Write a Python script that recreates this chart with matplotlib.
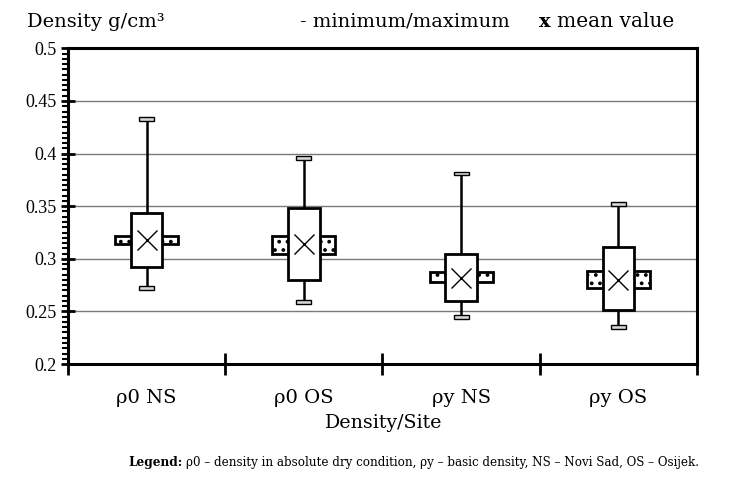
import numpy as np
import matplotlib
matplotlib.use("Agg")
import matplotlib.pyplot as plt
from matplotlib.patches import Rectangle

plt.rcParams['font.family'] = ['Liberation Serif', 'DejaVu Serif']
plt.rcParams['hatch.linewidth'] = 1.5

# data
categories = ['ρ0 NS', 'ρ0 OS', 'ρy NS', 'ρy OS']
minimum = [0.272, 0.259, 0.245, 0.235]
maximum = [0.433, 0.396, 0.381, 0.352]
box_low = [0.292, 0.280, 0.260, 0.251]
box_high = [0.344, 0.348, 0.305, 0.311]
side_low = [0.314, 0.305, 0.278, 0.272]
side_high = [0.322, 0.322, 0.287, 0.288]
mean = [0.318, 0.314, 0.282, 0.280]

text_font = ['DejaVu Serif']

fig = plt.figure(figsize=(7.31, 4.79), dpi=100)
ax = fig.add_axes([0.093, 0.240, 0.8605, 0.659])

box_w = 0.2
side_w = 0.4
cap_w = 0.095
cap_h = 0.0035

for i in range(len(categories)):
    x = i + 0.5
    # whisker
    ax.plot([x, x], [minimum[i], maximum[i]], color='black', lw=1.8, zorder=3)
    # caps
    for v in (minimum[i], maximum[i]):
        ax.add_patch(Rectangle((x - cap_w / 2, v - cap_h / 2), cap_w, cap_h,
                               facecolor='#d8d8d8', edgecolor='black', lw=1.0, zorder=4))
    # dotted side box
    ax.add_patch(Rectangle((x - side_w / 2, side_low[i]), side_w, side_high[i] - side_low[i],
                           facecolor='white', edgecolor='black', lw=2.0,
                           hatch='..', zorder=4))
    # main box
    ax.add_patch(Rectangle((x - box_w / 2, box_low[i]), box_w, box_high[i] - box_low[i],
                           facecolor='white', edgecolor='black', lw=2.0, zorder=5))
    # mean
    ax.plot(x, mean[i], marker='x', ms=15, mew=1.0, color='black', zorder=6)

ax.set_xlim(0, 4)
ax.set_ylim(0.2, 0.5)
ax.set_yticks(np.arange(0.2, 0.501, 0.05))
ax.set_yticklabels(['0.2', '0.25', '0.3', '0.35', '0.4', '0.45', '0.5'])
ax.set_yticks(np.arange(0.2, 0.501, 0.005), minor=True)
ax.set_xticks([0, 1, 2, 3, 4])
ax.set_xticklabels([])
ax.set_xticks([0.5, 1.5, 2.5, 3.5], minor=True)
ax.set_xticklabels(categories, minor=True, family=text_font, fontsize=14)

ax.yaxis.grid(True, which='major', color='#7a7a7a', lw=1.0)
ax.set_axisbelow(True)

ax.tick_params(axis='y', which='major', direction='inout', length=10, width=2.0,
               labelsize=13, pad=3)
ax.tick_params(axis='y', which='minor', direction='out', length=4, width=1.5)
ax.tick_params(axis='x', which='major', direction='inout', length=16, width=2.0)
ax.tick_params(axis='x', which='minor', length=0, pad=18)

for s in ax.spines.values():
    s.set_linewidth(2.2)

ax.set_xlabel('Density/Site', fontsize=13.7, family=text_font, labelpad=5)

fig.text(0.037, 0.955, 'Density g/cm³', fontsize=14, family=text_font, ha='left', va='center')
fig.text(0.41, 0.955, '- minimum/maximum', fontsize=14, family=text_font, ha='left', va='center')
fig.text(0.738, 0.955, 'x', fontsize=14, fontweight='bold', family=text_font,
         ha='left', va='center')
fig.text(0.762, 0.955, 'mean value', fontsize=14.5, family=text_font, ha='left', va='center')

leg_head = fig.text(0.175, 0.035, 'Legend:', fontsize=8.7, fontweight='bold', family=text_font,
                    ha='left', va='center')
fig.canvas.draw()
head_end = leg_head.get_window_extent().x1 / fig.bbox.width
fig.text(head_end + 0.005, 0.035, 'ρ0 – density in absolute dry condition, ρy – basic density, '
         'NS – Novi Sad, OS – Osijek.', fontsize=8.6, family=text_font, ha='left', va='center')

fig.savefig('out.png', dpi=100)
